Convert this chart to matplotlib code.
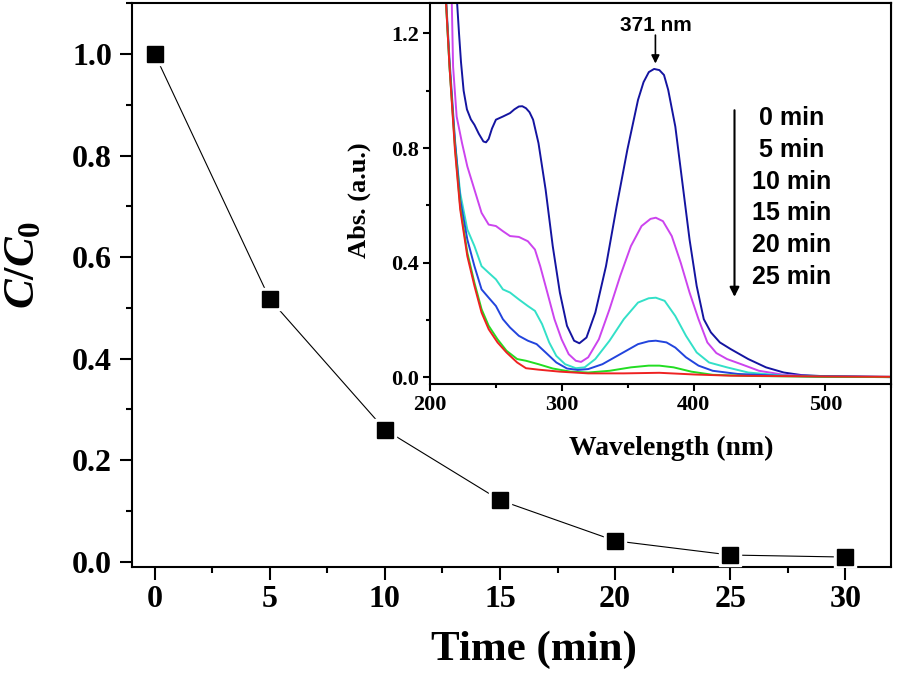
import numpy as np
import matplotlib
matplotlib.use('Agg')
from matplotlib import pyplot as plt
from matplotlib.ticker import MultipleLocator, FormatStrFormatter

plt.rcParams['font.family'] = 'Liberation Serif'
plt.rcParams['font.weight'] = 'bold'
plt.rcParams['axes.labelweight'] = 'bold'
plt.rcParams['mathtext.fontset'] = 'custom'
plt.rcParams['mathtext.it'] = 'Liberation Serif:italic:bold'
plt.rcParams['mathtext.rm'] = 'Liberation Serif:bold'
plt.rcParams['mathtext.bf'] = 'Liberation Serif:bold'

# degradation kinetics
time_min = [0, 5, 10, 15, 20, 25, 30]
c_ratio = [1.0, 0.517, 0.26, 0.121, 0.041, 0.013, 0.009]

# UV-vis spectra
wl_0 = [215, 220.5, 222, 223.5, 225.5, 228, 231, 233.7, 237, 240.5, 242.5, 244.5, 247,
        250, 255.3, 260.7, 264, 267.4, 270, 272.8, 275.5, 278.2, 282.3, 287.7, 293.1,
        298.5, 303.9, 309.3, 313.3, 318.7, 325.4, 333.5, 341.6, 349.7, 357.8, 362,
        366, 370, 374, 377.5, 380.7, 386.1, 391.5, 396.9, 402.3, 407.7, 413.1, 419.9,
        428, 441.4, 454.9, 468.4, 481.9, 500, 550]
abs_0 = [1.8, 1.31, 1.2, 1.1, 1.0, 0.935, 0.9, 0.881, 0.85, 0.823, 0.82, 0.832, 0.868,
         0.899, 0.91, 0.922, 0.935, 0.945, 0.946, 0.939, 0.925, 0.899, 0.817, 0.655, 0.458,
         0.296, 0.18, 0.128, 0.119, 0.139, 0.226, 0.388, 0.597, 0.794, 0.968, 1.03,
         1.065, 1.076, 1.072, 1.055, 1.003, 0.875, 0.678, 0.481, 0.319, 0.203, 0.157,
         0.122, 0.099, 0.064, 0.035, 0.017, 0.008, 0.004, 0.002]

wl_5 = [212, 216.5, 217.5, 220.2, 224.3, 228.3, 233.7, 239.1, 244.5, 250, 255.3, 260.7,
        267.4, 274.2, 279.6, 283.6, 289, 294.4, 299.8, 305.2, 310.6, 314.6, 320, 328.1,
        336.2, 344.3, 352.4, 360.5, 367.3, 371.3, 376.7, 383.4, 390.2, 396.9, 403.7,
        410.4, 417.2, 425.3, 436.1, 449.6, 468.4, 500, 550]
abs_5 = [1.8, 1.31, 1.084, 0.91, 0.817, 0.736, 0.655, 0.574, 0.533, 0.528, 0.51, 0.493,
         0.49, 0.475, 0.446, 0.388, 0.296, 0.203, 0.133, 0.081, 0.058, 0.054, 0.07, 0.133,
         0.238, 0.354, 0.458, 0.528, 0.553, 0.557, 0.545, 0.493, 0.4, 0.296, 0.203,
         0.122, 0.085, 0.064, 0.046, 0.023, 0.009, 0.002, 0.001]

wl_10 = [208, 212.1, 214.8, 218.9, 222.9, 228.3, 233.7, 239.1, 244.5, 250, 255.3, 260.7,
         267.4, 274.2, 279.6, 285, 290.4, 295.8, 302.5, 310.6, 317.3, 325.4, 336.2, 347,
         357.8, 365.9, 371.3, 378, 386.1, 394.2, 402.3, 411.7, 425.3, 441.4, 468.4, 500, 550]
abs_10 = [1.8, 1.31, 1.084, 0.817, 0.643, 0.516, 0.458, 0.388, 0.365, 0.342, 0.307, 0.296,
          0.272, 0.249, 0.232, 0.186, 0.122, 0.075, 0.046, 0.032, 0.035, 0.064, 0.128, 0.203,
          0.261, 0.276, 0.278, 0.267, 0.214, 0.145, 0.087, 0.052, 0.035, 0.017, 0.006, 0.002, 0.001]

wl_15 = [208, 212.3, 214.8, 218.9, 222.9, 228.3, 233.7, 239.1, 244.5, 250, 255.3, 260.7,
         267.4, 274.2, 280.9, 287.7, 295.8, 303.9, 312, 320, 330.8, 344.3, 357.8, 365.9,
         371.3, 379.4, 386.1, 394.2, 403.7, 414.5, 433.4, 468.4, 550]
abs_15 = [1.8, 1.31, 1.107, 0.829, 0.62, 0.481, 0.388, 0.307, 0.278, 0.249, 0.203, 0.174,
          0.145, 0.128, 0.116, 0.087, 0.052, 0.031, 0.026, 0.029, 0.046, 0.081, 0.116, 0.126,
          0.128, 0.122, 0.104, 0.07, 0.041, 0.023, 0.012, 0.005, 0.001]

wl_20 = [208, 212.1, 214.8, 218.9, 222.9, 228.3, 233.7, 239.1, 244.5, 251.2, 258, 266.1,
         272.8, 282.3, 293.1, 306.6, 320, 336.2, 352.4, 365.9, 374, 384.8, 398.3, 414.5,
         441.4, 500, 550]
abs_20 = [1.8, 1.31, 1.084, 0.806, 0.597, 0.435, 0.33, 0.238, 0.18, 0.133, 0.093, 0.064,
          0.058, 0.046, 0.031, 0.02, 0.017, 0.023, 0.035, 0.041, 0.041, 0.035, 0.02, 0.009,
          0.005, 0.002, 0.001]

wl_25 = [208, 212.1, 214.8, 218.9, 222.9, 228.3, 233.7, 239.1, 244.5, 251.2, 258, 266.1,
         272.8, 282.3, 298.5, 320, 347, 374, 401, 428, 500, 550]
abs_25 = [1.8, 1.31, 1.084, 0.794, 0.586, 0.423, 0.319, 0.226, 0.168, 0.122, 0.087, 0.052,
          0.032, 0.027, 0.02, 0.014, 0.014, 0.016, 0.01, 0.006, 0.003, 0.002]

spectra = [(wl_0, abs_0, '#1414a0'), (wl_5, abs_5, '#cc44ee'), (wl_10, abs_10, '#33e0c8'),
           (wl_15, abs_15, '#2244dd'), (wl_20, abs_20, '#22dd22'), (wl_25, abs_25, '#ee2222')]
time_labels = ['0 min', '5 min', '10 min', '15 min', '20 min', '25 min']


fig = plt.figure(figsize=(8.97, 6.74), dpi=100)
ax = fig.add_axes([0.1468, 0.1592, 0.8469, 0.8359])

ax.plot(time_min, c_ratio, '-', color='black', lw=0.8, zorder=2)
ax.plot(time_min, c_ratio, 's', color='white', ms=16, zorder=3)
ax.plot(time_min, c_ratio, 's', color='black', ms=12, zorder=4)

ax.set_xlim(-1, 32)
ax.set_ylim(-0.01, 1.1)
ax.xaxis.set_major_locator(MultipleLocator(5))
ax.xaxis.set_minor_locator(MultipleLocator(2.5))
ax.yaxis.set_major_locator(MultipleLocator(0.2))
ax.yaxis.set_minor_locator(MultipleLocator(0.1))
ax.yaxis.set_major_formatter(FormatStrFormatter('%.1f'))
ax.tick_params(which='major', direction='out', length=9, width=1.5, labelsize=23)
ax.tick_params(which='minor', direction='out', length=4.5, width=1.5)
ax.tick_params(axis='x', which='major', pad=4)
ax.tick_params(axis='y', which='major', pad=5)
for s in ax.spines.values():
    s.set_linewidth(1.5)
ax.set_xlabel('Time (min)', fontsize=31)
ax.set_ylabel(r'$C/C_0$', fontsize=32)
ax.xaxis.set_label_coords(0.53, -0.114, transform=ax.transAxes)
ax.yaxis.set_label_coords(-0.117, 0.535, transform=ax.transAxes)

# inset with the absorption spectra
ins = fig.add_axes([0.4794, 0.4303, 0.5143, 0.5648])
for wl, ab, col in spectra:
    ins.plot(wl, ab, '-', color=col, lw=1.4)
ins.set_xlim(200, 550)
ins.set_ylim(-0.023, 1.305)
ins.xaxis.set_major_locator(MultipleLocator(100))
ins.xaxis.set_minor_locator(MultipleLocator(50))
ins.yaxis.set_major_locator(MultipleLocator(0.4))
ins.yaxis.set_minor_locator(MultipleLocator(0.2))
ins.yaxis.set_major_formatter(FormatStrFormatter('%.1f'))
ins.tick_params(which='major', direction='out', length=5, width=1.5, labelsize=16, pad=3)
ins.tick_params(which='minor', direction='out', length=3, width=1.5)
for s in ins.spines.values():
    s.set_linewidth(1.5)
ins.set_xlabel('Wavelength (nm)', fontsize=20)
ins.set_ylabel('Abs. (a.u.)', fontsize=19)
ins.xaxis.set_label_coords(0.522, -0.135, transform=ins.transAxes)
ins.yaxis.set_label_coords(-0.129, 0.483, transform=ins.transAxes)

sans = 'Liberation Sans'
ins.annotate('', xy=(371, 1.095), xytext=(371, 1.194),
             arrowprops=dict(arrowstyle='-|>', color='black', lw=1.2,
                             mutation_scale=12, shrinkA=0, shrinkB=0))
ins.text(371, 1.229, '371 nm', family=sans, fontsize=15, fontweight='bold',
         ha='center', va='center')
ins.annotate('', xy=(431, 0.281), xytext=(431, 0.932),
             arrowprops=dict(arrowstyle='-|>', color='black', lw=1.5,
                             mutation_scale=14, shrinkA=0, shrinkB=0))
for i, lab in enumerate(time_labels):
    ins.text(474.5, 0.904 - 0.1105 * i, lab, family=sans, fontsize=18,
             fontweight='bold', ha='center', va='center')

fig.savefig('out.png', dpi=100)
